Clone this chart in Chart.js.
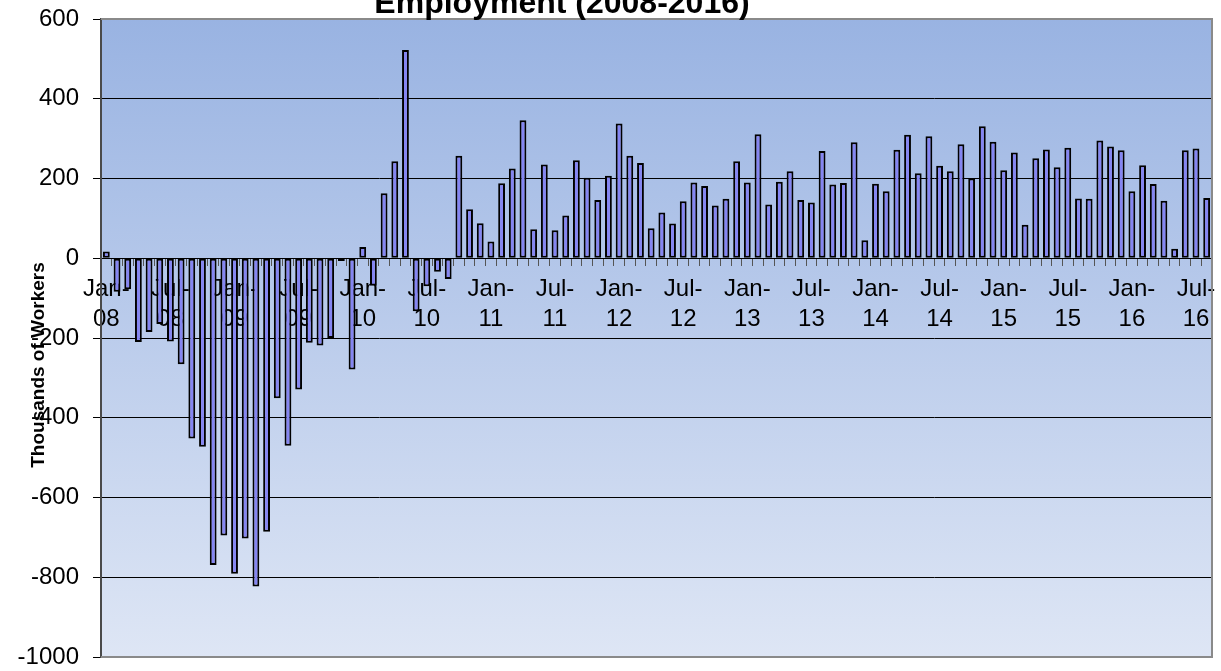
<!DOCTYPE html>
<html>
<head>
<meta charset="utf-8">
<script src="https://cdn.jsdelivr.net/npm/chart.js@4"></script>
<style>
  html, body { margin: 0; padding: 0; background: #fff; }
  #wrap { width: 1221px; height: 671px; }
</style>
</head>
<body>
<div id="wrap"><canvas id="myChart"></canvas></div>
<script>
// monthly change, thousands of workers
var monthNames = ['Jan', 'Feb', 'Mar', 'Apr', 'May', 'Jun', 'Jul', 'Aug', 'Sep', 'Oct', 'Nov', 'Dec'];
var years = ['08', '09', '10', '11', '12', '13', '14', '15', '16'];

var jobs2008 = [17, -84, -78, -210, -185, -165, -209, -266, -452, -473, -769, -695];
var jobs2009 = [-791, -703, -823, -686, -351, -470, -329, -212, -219, -200, -7, -279];
var jobs2010 = [28, -69, 163, 243, 522, -133, -70, -34, -52, 257, 123, 88];
var jobs2011 = [42, 188, 225, 346, 73, 235, 70, 107, 246, 202, 146, 207];
var jobs2012 = [338, 257, 239, 75, 115, 87, 143, 190, 181, 132, 149, 243];
var jobs2013 = [190, 311, 135, 192, 218, 146, 140, 269, 185, 189, 291, 45];
var jobs2014 = [187, 168, 272, 310, 213, 306, 232, 218, 286, 200, 331, 292];
var jobs2015 = [221, 265, 84, 251, 273, 228, 277, 150, 149, 295, 280, 271];
var jobs2016 = [168, 233, 186, 144, 24, 271, 275, 151];

var yTicks = [600, 400, 200, 0, -200, -400, -600, -800, -1000];

var titleText = 'Employment (2008-2016)';
var yTitleText = 'Thousands of Workers';

var values = [].concat(jobs2008, jobs2009, jobs2010, jobs2011, jobs2012,
                       jobs2013, jobs2014, jobs2015, jobs2016);

var labels = [];
years.forEach(function (yr) {
    monthNames.forEach(function (m) {
        if (labels.length < values.length) labels.push(m + '-' + yr);
    });
});

var FONT = "'Liberation Sans', Arial, sans-serif";

// gradient plot background + grey frame + custom title texts
var decor = {
    id: 'decor',
    beforeDraw: function (chart) {
        var c = chart.ctx, a = chart.chartArea;
        var g = c.createLinearGradient(0, a.top, 0, a.bottom);
        g.addColorStop(0, '#99b3e2');
        g.addColorStop(1, '#dee6f5');
        c.save();
        c.fillStyle = g;
        c.fillRect(a.left, a.top, a.right - a.left, a.bottom - a.top);
        c.restore();
    },
    beforeDatasetsDraw: function (chart) {
        var c = chart.ctx, a = chart.chartArea;
        c.save();
        c.strokeStyle = '#8a8a8a';
        c.lineWidth = 2;
        c.beginPath();
        c.moveTo(a.left, a.top);
        c.lineTo(a.right, a.top);
        c.lineTo(a.right, a.bottom);
        c.lineTo(a.left, a.bottom);
        c.stroke();
        c.restore();
    },
    afterDraw: function (chart) {
        var c = chart.ctx;
        c.save();
        c.fillStyle = '#000';
        c.textAlign = 'center';
        c.textBaseline = 'alphabetic';
        c.font = 'bold 32px ' + FONT;
        c.fillText(titleText, 562, 13);
        c.translate(44, 365);
        c.rotate(-Math.PI / 2);
        c.font = 'bold 19px ' + FONT;
        c.fillText(yTitleText, 0, 0);
        c.restore();
    }
};

var ctx = document.getElementById('myChart').getContext('2d');

var myChart = new Chart(ctx, {
    type: 'bar',
    data: {
        labels: labels,
        datasets: [{
            label: 'Change',
            data: values,
            backgroundColor: '#8585f2',
            borderColor: '#000',
            borderWidth: 2,
            borderSkipped: false,
            barPercentage: 0.64,
            categoryPercentage: 1
        }]
    },
    options: {
        responsive: true,
        maintainAspectRatio: false,
        animation: false,
        layout: { padding: { top: 19, right: 9, bottom: 14, left: 0 } },
        plugins: {
            legend: { display: false },
            tooltip: { enabled: false }
        },
        scales: {
            x: {
                position: { y: 0 },
                afterFit: function (s) {
                    s.height = 0;
                    s.paddingLeft = 0;
                    s.paddingRight = 0;
                },
                grid: {
                    drawOnChartArea: false,
                    drawTicks: true,
                    tickLength: 7,
                    tickColor: '#555'
                },
                border: { display: true, color: '#000', width: 1 },
                ticks: {
                    autoSkip: false,
                    maxRotation: 0,
                    minRotation: 0,
                    padding: 9,
                    color: '#000',
                    font: { family: FONT, size: 24, lineHeight: 1.25 },
                    callback: function (v, i) {
                        if (i % 6 !== 0) return '';
                        var parts = labels[i].split('-');
                        return [parts[0] + '-', parts[1]];
                    }
                }
            },
            y: {
                min: -1000,
                max: 600,
                afterFit: function (s) {
                    s.width = 101;
                    s.paddingTop = 0;
                    s.paddingBottom = 0;
                },
                afterBuildTicks: function (s) {
                    s.ticks = yTicks.map(function (v) { return { value: v }; });
                },
                grid: {
                    color: function (c) {
                        var v = c.tick ? c.tick.value : null;
                        return (v === 600 || v === -1000) ? 'rgba(0,0,0,0)' : '#000';
                    },
                    lineWidth: 1,
                    tickLength: 8,
                    tickColor: '#000'
                },
                border: { display: true, color: '#4a4a4a', width: 2 },
                ticks: {
                    padding: 14,
                    color: '#000',
                    font: { family: FONT, size: 24 },
                    callback: function (v) { return String(v); }
                }
            }
        }
    },
    plugins: [decor]
});
</script>
</body>
</html>
